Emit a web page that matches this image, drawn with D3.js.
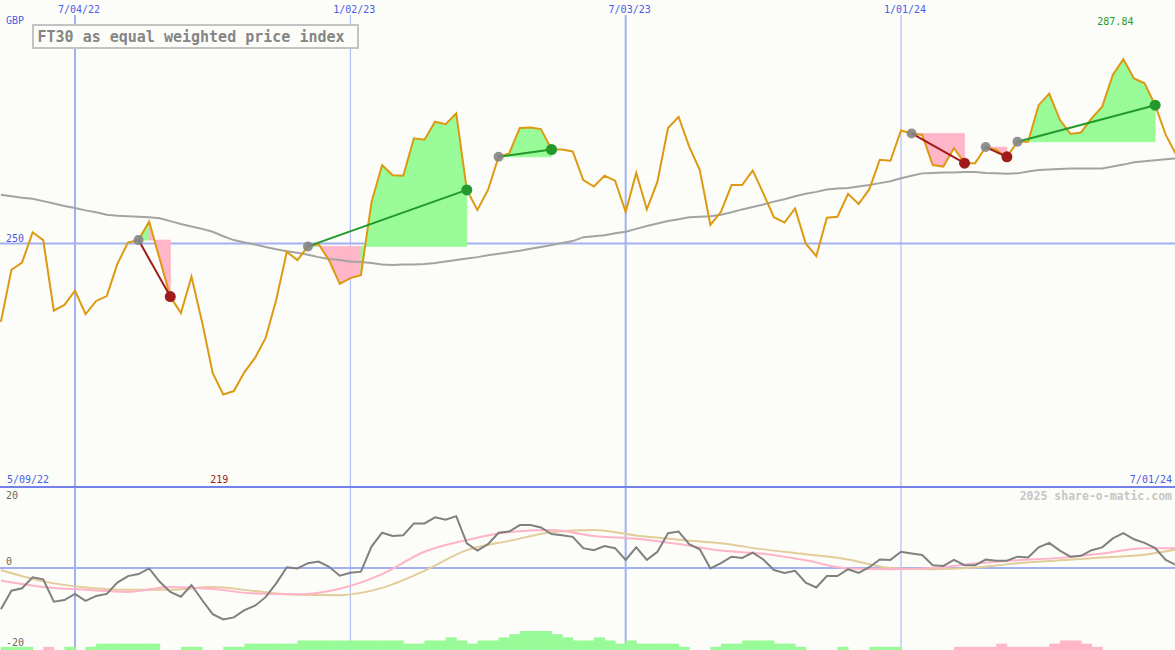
<!DOCTYPE html>
<html><head><meta charset="utf-8">
<script src="https://cdn.jsdelivr.net/npm/d3@7"></script>
<style>
html,body{margin:0;padding:0;background:#fcfdf9;}
svg{display:block;}
text{font-family:"DejaVu Sans Mono",monospace;}
</style></head><body>
<svg id="chart" width="1175" height="650"></svg>
<script>
(function(){
// ---------------- DATA ----------------
const title = "FT30 as equal weighted price index";
const currency = "GBP";
const firstWeek = "2022-05-16";           // weekly observations
const price = [
 233.9,244.6,246.1,252.3,250.7,236.2,237.4,240.3,235.5,238.2,
 239.2,245.8,250.2,250.7,254.5,246.8,239.1,235.7,243.2,233.9,
 223.4,219.0,219.7,223.6,226.5,230.6,238.4,248.3,246.6,249.4,
 249.9,246.5,241.7,242.9,243.5,258.5,266.1,264.0,263.9,271.6,
 271.3,275.0,274.5,276.7,261.0,256.9,261.0,267.8,268.5,273.7,
 273.8,273.5,269.3,269.3,268.9,263.0,261.7,263.9,262.9,256.5,
 264.5,257.0,262.7,273.7,276.0,269.9,265.1,253.8,256.5,262.0,
 262.0,265.0,260.3,255.4,254.3,257.2,250.0,247.4,255.3,255.5,
 260.2,258.1,261.1,267.2,267.0,273.2,272.6,272.3,266.1,265.8,
 269.6,266.5,266.5,269.8,269.2,267.8,270.9,270.9,278.4,280.8,
 275.4,272.5,272.8,275.7,278.1,284.6,287.84,283.9,282.9,278.4,
 272.3,268.2];
const movingAverage = [
 260.0,259.7,259.4,259.2,258.7,258.2,257.7,257.3,256.8,256.4,
 255.9,255.7,255.6,255.5,255.4,255.2,254.6,254.0,253.5,253.0,
 252.4,251.5,250.7,250.2,249.8,249.3,248.8,248.4,248.1,247.7,
 247.2,246.8,246.6,246.3,246.2,246.0,245.7,245.6,245.7,245.7,
 245.8,246.0,246.3,246.6,246.9,247.2,247.6,247.9,248.2,248.5,
 248.9,249.3,249.7,250.1,250.5,251.3,251.5,251.7,252.1,252.4,
 253.0,253.6,254.1,254.6,255.0,255.4,255.5,255.6,255.9,256.4,
 257.0,257.5,258.0,258.6,259.1,259.7,260.2,260.6,261.1,261.3,
 261.4,261.7,262.0,262.4,262.8,263.4,263.9,264.4,264.5,264.6,
 264.6,264.7,264.7,264.5,264.4,264.3,264.4,264.8,265.1,265.2,
 265.3,265.4,265.4,265.4,265.4,265.8,266.2,266.7,266.9,267.1,
 267.3,267.5];
const oscillator = [
 -10.2,-5.6,-5.0,-2.3,-2.8,-8.3,-7.9,-6.4,-8.1,-6.9,
 -6.4,-3.6,-2.0,-1.5,-0.1,-3.4,-5.9,-7.1,-4.2,-7.9,
 -11.4,-12.7,-12.2,-10.4,-9.3,-7.2,-3.8,0.2,-0.1,1.2,
 1.6,0.3,-1.9,-1.2,-0.9,5.3,8.7,7.9,8.1,11.0,
 11.0,12.5,11.9,12.8,6.1,4.3,5.9,8.7,9.0,10.6,
 10.6,10.0,8.4,8.1,7.7,4.9,4.4,5.4,4.9,2.0,
 5.1,2.0,4.0,8.6,9.0,5.9,4.6,-0.1,1.2,2.8,
 2.5,3.8,2.1,-0.5,-1.2,-0.7,-3.6,-4.8,-2.0,-2.0,
 -0.3,-1.2,0.2,2.1,2.0,4.0,3.6,3.2,0.7,0.5,
 2.0,0.7,0.7,2.1,1.8,1.8,2.8,2.6,5.1,6.2,
 4.3,2.8,3.0,4.4,5.1,7.3,8.6,7.1,6.2,4.9,
 2.0,0.7];
const smoothWeeks = [0,4,8,12,16,20,24,28,32,36,40,44,48,52,56,60,64,68,72,76,80,84,88,92,96,100,104,108,111];
const pinkSignal = [-3.1,-4.7,-5.4,-5.9,-4.7,-5.2,-6.3,-6.5,-5.1,-1.5,4.0,6.9,8.9,9.4,7.9,7.2,5.9,4.3,3.5,1.9,-0.1,-0.3,0.0,1.1,1.9,2.5,3.6,4.9,4.9];
const tanSignal  = [-0.5,-3.3,-4.8,-5.4,-5.4,-4.7,-5.7,-6.6,-6.7,-4.9,-0.7,4.4,6.7,8.8,9.4,8.0,7.0,6.1,4.6,3.4,2.1,0.0,-0.3,0.1,1.2,1.9,2.6,3.3,4.6];
const histogram = [
 1,1,1,0,-1,0,1,0,1,2,
 2,2,2,2,2,0,0,1,1,0,
 0,1,1,2,2,2,2,2,3,3,
 3,3,3,3,3,3,3,3,2,2,
 3,3,4,3,2,3,3,4,5,6,
 6,6,5,4,3,3,4,3,2,3,
 2,2,2,2,1,0,0,1,2,2,
 3,3,3,2,2,1,0,0,0,1,
 0,0,1,1,1,0,0,0,0,0,
 -1,-1,-1,-1,-2,-1,-1,-1,-1,-2,
 -3,-3,-2,-1,0,0,0,0,0,0,
 0,0];
const trades = [
 {entry:"2022-08-15", exit:"2022-09-05"},
 {entry:"2022-12-05", exit:"2023-03-20"},
 {entry:"2023-04-10", exit:"2023-05-15"},
 {entry:"2024-01-08", exit:"2024-02-12"},
 {entry:"2024-02-26", exit:"2024-03-11"},
 {entry:"2024-03-18", exit:"2024-06-17"}];
const gridDates  = ["2022-07-04","2023-01-02","2023-07-03","2024-01-01"];
const gridLabels = ["7/04/22","1/02/23","7/03/23","1/01/24"];
const priceTicks = [250];
const oscTicks = [20,0,-20];
const rangeLabels = ["5/09/22","7/01/24"];
const copyright = "2025 share-o-matic.com";

// ---------------- SETUP ----------------
const W = 1175, H = 650, SEP = 487;
const parse = d3.timeParse("%Y-%m-%d");
const week0 = parse(firstWeek);
const dates = price.map((_, i) => d3.timeDay.offset(week0, 7 * i));
const idxOf = s => dates.findIndex(d => +d === +parse(s));

const x = d3.scaleTime().domain([parse(gridDates[0]), parse(gridDates[3])]).range([75, 901]);
const y = d3.scaleLinear().domain([200, 300]).range([SEP, 0]);
const yo = d3.scaleLinear().domain([-20, 20]).range([649, SEP]);
const hb = d3.scaleLinear().domain([0, 6]).range([0, 19]);

const C = {
  grid:"#a3b1f2", sep:"#7282ea", blue:"#4b5be6", price:"#dd9911", ma:"#a3a3a3",
  green:"#98fb98", pink:"#ffb6c8", dred:"#a01b1b", dgreen:"#22992a", gdot:"#858585",
  osc:"#808080", pinkL:"#ffb3c8", tanL:"#e3cc9a", lab:"#6a6a6a"
};

const svg = d3.select("#chart");
svg.append("rect").attr("width", W).attr("height", H).attr("fill", "#fcfdf9");
const defs = svg.append("defs");
defs.append("clipPath").attr("id","clipTop").append("rect").attr("x",0).attr("y",0).attr("width",W).attr("height",SEP);
defs.append("clipPath").attr("id","clipBot").append("rect").attr("x",0).attr("y",SEP+2).attr("width",W).attr("height",H-SEP-2);

// grid
const gridG = svg.append("g");
gridDates.forEach((d, k) => {
  const gx = x(parse(d));
  gridG.append("line").attr("x1", gx).attr("x2", gx).attr("y1", 15).attr("y2", H)
    .attr("stroke", C.grid).attr("stroke-width", parse(d).getMonth() === 0 ? 1 : 2);
  gridG.append("text").attr("x", gx + 4).attr("y", 13).attr("text-anchor", "middle")
    .attr("font-size", 10).attr("fill", C.blue).text(gridLabels[k]);
});
priceTicks.forEach(v => {
  gridG.append("line").attr("x1", 0).attr("x2", W).attr("y1", y(v)).attr("y2", y(v))
    .attr("stroke", C.grid).attr("stroke-width", 2);
  gridG.append("text").attr("x", 6).attr("y", y(v) - 2).attr("font-size", 10)
    .attr("fill", C.blue).text(v);
});
oscTicks.forEach(v => {
  if (v === 0) gridG.append("line").attr("x1", 0).attr("x2", W).attr("y1", yo(v)).attr("y2", yo(v))
    .attr("stroke", C.grid).attr("stroke-width", 2);
  const by = Math.min(Math.max(yo(v) - 3, SEP + 12), H - 4);
  gridG.append("text").attr("x", 6).attr("y", by).attr("font-size", 10).attr("fill", C.lab).text(v);
});
svg.append("line").attr("x1", 0).attr("x2", W).attr("y1", SEP).attr("y2", SEP)
  .attr("stroke", C.sep).attr("stroke-width", 2);

// ---------------- TOP PANEL ----------------
const topG = svg.append("g").attr("clip-path", "url(#clipTop)");
const px = i => x(dates[i]);

// trade shading: one trapezoid per week, coloured by where the week ends
trades.forEach(t => {
  const s = idxOf(t.entry), e = idxOf(t.exit);
  const L = price[s];
  for (let k = s; k < e; k++) {
    const col = price[k + 1] >= L ? C.green : C.pink;
    const area = d3.area().x(i => px(i)).y0(y(L)).y1(i => y(price[i]));
    topG.append("path").attr("d", area([k, k + 1]))
      .attr("fill", col).attr("stroke", col).attr("stroke-width", 0.8);
  }
});

const pline = d3.line().x((d, i) => px(i)).y(d => y(d));
topG.append("path").attr("d", pline(movingAverage)).attr("fill", "none")
  .attr("stroke", C.ma).attr("stroke-width", 2);
topG.append("path").attr("d", pline(price)).attr("fill", "none")
  .attr("stroke", C.price).attr("stroke-width", 2).attr("stroke-linejoin", "miter");

trades.forEach(t => {
  const s = idxOf(t.entry), e = idxOf(t.exit);
  const win = price[e] >= price[s];
  topG.append("line").attr("x1", px(s)).attr("y1", y(price[s])).attr("x2", px(e)).attr("y2", y(price[e]))
    .attr("stroke", win ? C.dgreen : C.dred).attr("stroke-width", 2);
  topG.append("circle").attr("cx", px(s)).attr("cy", y(price[s])).attr("r", 5)
    .attr("fill", C.gdot).attr("opacity", 0.9);
  topG.append("circle").attr("cx", px(e)).attr("cy", y(price[e])).attr("r", 5.5)
    .attr("fill", win ? C.dgreen : C.dred);
});

// extremes
const fmt = d3.format(".2~f");
const iMax = d3.maxIndex(price), iMin = d3.minIndex(price);
svg.append("text").attr("x", px(iMax) - 8).attr("y", 25).attr("text-anchor", "middle")
  .attr("font-size", 10).attr("fill", C.dgreen).text(fmt(price[iMax]));
svg.append("text").attr("x", px(iMin) - 4).attr("y", 483).attr("text-anchor", "middle")
  .attr("font-size", 10).attr("fill", C.dred).text(fmt(price[iMin]));

svg.append("text").attr("x", 6).attr("y", 24).attr("font-size", 10).attr("fill", C.blue).text(currency);
svg.append("text").attr("x", 7).attr("y", 483).attr("font-size", 10).attr("fill", C.blue).text(rangeLabels[0]);
svg.append("text").attr("x", 1172).attr("y", 483).attr("text-anchor", "end").attr("font-size", 10).attr("fill", C.blue).text(rangeLabels[1]);

// title box
svg.append("rect").attr("x", 33).attr("y", 25).attr("width", 325).attr("height", 23)
  .attr("fill", "#fcfdf9").attr("stroke", "#c3c3c3").attr("stroke-width", 2);
svg.append("text").attr("x", 37.5).attr("y", 41.5).attr("font-size", 15).attr("font-weight", "bold")
  .attr("fill", "#858585").text(title);

// ---------------- BOTTOM PANEL ----------------
const botG = svg.append("g").attr("clip-path", "url(#clipBot)");
histogram.forEach((v, i) => {
  if (!v) return;
  const x0 = px(i), x1 = x(d3.timeDay.offset(dates[i], 7));
  botG.append("rect").attr("x", x0).attr("width", x1 - x0 + 0.5)
    .attr("y", H - hb(Math.abs(v))).attr("height", hb(Math.abs(v)))
    .attr("fill", v > 0 ? C.green : C.pink);
});
const sline = d3.line().curve(d3.curveMonotoneX).x((d, k) => px(smoothWeeks[k])).y(d => yo(d));
botG.append("path").attr("d", sline(tanSignal)).attr("fill", "none").attr("stroke", C.tanL).attr("stroke-width", 2);
botG.append("path").attr("d", sline(pinkSignal)).attr("fill", "none").attr("stroke", C.pinkL).attr("stroke-width", 2);
const oline = d3.line().x((d, i) => px(i)).y(d => yo(d));
botG.append("path").attr("d", oline(oscillator)).attr("fill", "none").attr("stroke", C.osc).attr("stroke-width", 2);

svg.append("text").attr("x", 1172).attr("y", 500).attr("text-anchor", "end")
  .attr("font-size", 11.5).attr("font-weight", "bold").attr("fill", "#c6c6c6").text(copyright);
})();
</script>
</body></html>
